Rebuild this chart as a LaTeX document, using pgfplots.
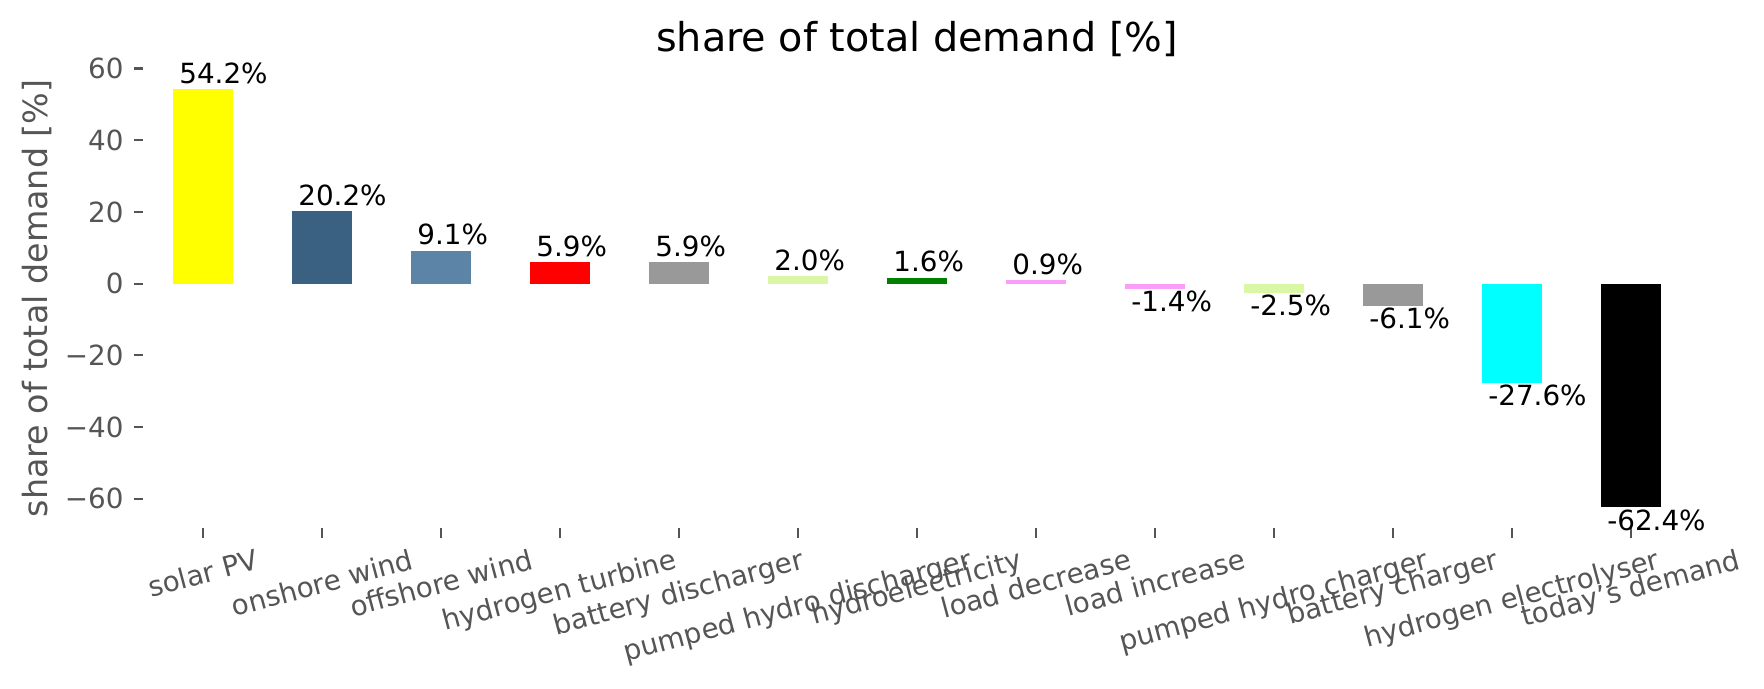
\documentclass[border=0pt]{standalone}
\usepackage{fontspec}
\setmainfont{DejaVu Sans}
\usepackage{graphicx}
\usepackage{pgfplots}
\pgfplotsset{compat=1.18}
\definecolor{tickgrey}{HTML}{555555}
\definecolor{cSolar}{HTML}{FFFF00}
\definecolor{cOnwind}{HTML}{3B6182}
\definecolor{cOffwind}{HTML}{5B84A6}
\definecolor{cH2turb}{HTML}{FF0000}
\definecolor{cBatt}{HTML}{999999}
\definecolor{cPHS}{HTML}{DAF7A6}
\definecolor{cHydro}{HTML}{008000}
\definecolor{cLoad}{HTML}{F99EF9}
\definecolor{cElec}{HTML}{00FFFF}
\definecolor{cDemand}{HTML}{000000}
\newcommand\rl[1]{\rotatebox{15}{#1}}
\pgfplotsset{
  pos/.style={fill=#1, draw=none, nodes near coords,
    every node near coord/.append style={anchor=base west, inner sep=0pt, xshift=-8.7pt, yshift=2.2pt, font=\fontsize{10}{12}\selectfont, text=black}},
  neg/.style={fill=#1, draw=none, nodes near coords,
    every node near coord/.append style={anchor=north west, inner sep=0pt, xshift=-8.7pt, yshift=-0.6pt, font=\fontsize{10}{12}\selectfont, text=black}},
}
\begin{document}
\begin{tikzpicture}
\useasboundingbox (0,0) rectangle (635.04pt,248.04pt);
\begin{axis}[
  at={(51.66pt,223.38pt)}, anchor=north west,
  scale only axis, width=556.9pt, height=165.5pt,
  xmin=-0.5, xmax=12.5, ymin=-68.23, ymax=60.03,
  ybar, bar width=0.5, bar shift=0pt,
  clip=false,
  axis x line*=bottom, axis y line*=left,
  axis line style={draw=none},
  tick align=outside, major tick length=3.5pt,
  tick style={color=tickgrey, line width=0.8pt},
  xtick={0,1,2,3,4,5,6,7,8,9,10,11,12},
  xticklabels={\rl{solar PV},\rl{onshore wind},\rl{offshore wind},\rl{hydrogen turbine},\rl{battery discharger},\rl{pumped hydro discharger},\rl{hydroelectricity},\rl{load decrease},\rl{load increase},\rl{pumped hydro charger},\rl{battery charger},\rl{hydrogen electrolyser},\rl{today's demand}},
  ytick={-60,-40,-20,0,20,40,60},
  yticklabels={−60,−40,−20,0,20,40,60},
  xticklabel style={anchor=north, inner sep=0pt, yshift=-3.5pt, font=\fontsize{10}{12}\selectfont, text=tickgrey},
  yticklabel style={anchor=east, inner sep=0pt, xshift=-3.5pt, font=\fontsize{10}{12}\selectfont, text=tickgrey},
  every axis y label/.style={at={(axis description cs:-0.0687,0.5)}, anchor=center, rotate=90, font=\fontsize{12}{14}\selectfont, text=tickgrey},
  ylabel={share of total demand [\%]},
  every axis title/.style={at={(axis description cs:0.5,1)}, anchor=base, yshift=6pt, font=\fontsize{14.3}{17}\selectfont},
  title={share of total demand [\%]},
  point meta=explicit symbolic,
]
\addplot[pos=cSolar] coordinates {(0,54.2) [54.2\%]};
\addplot[pos=cOnwind] coordinates {(1,20.2) [20.2\%]};
\addplot[pos=cOffwind] coordinates {(2,9.1) [9.1\%]};
\addplot[pos=cH2turb] coordinates {(3,5.9) [5.9\%]};
\addplot[pos=cBatt] coordinates {(4,5.9) [5.9\%]};
\addplot[pos=cPHS] coordinates {(5,2.0) [2.0\%]};
\addplot[pos=cHydro] coordinates {(6,1.6) [1.6\%]};
\addplot[pos=cLoad] coordinates {(7,0.9) [0.9\%]};
\addplot[neg=cLoad] coordinates {(8,-1.4) [-1.4\%]};
\addplot[neg=cPHS] coordinates {(9,-2.5) [-2.5\%]};
\addplot[neg=cBatt] coordinates {(10,-6.1) [-6.1\%]};
\addplot[neg=cElec] coordinates {(11,-27.6) [-27.6\%]};
\addplot[neg=cDemand] coordinates {(12,-62.4) [-62.4\%]};
\end{axis}
\end{tikzpicture}
\end{document}
